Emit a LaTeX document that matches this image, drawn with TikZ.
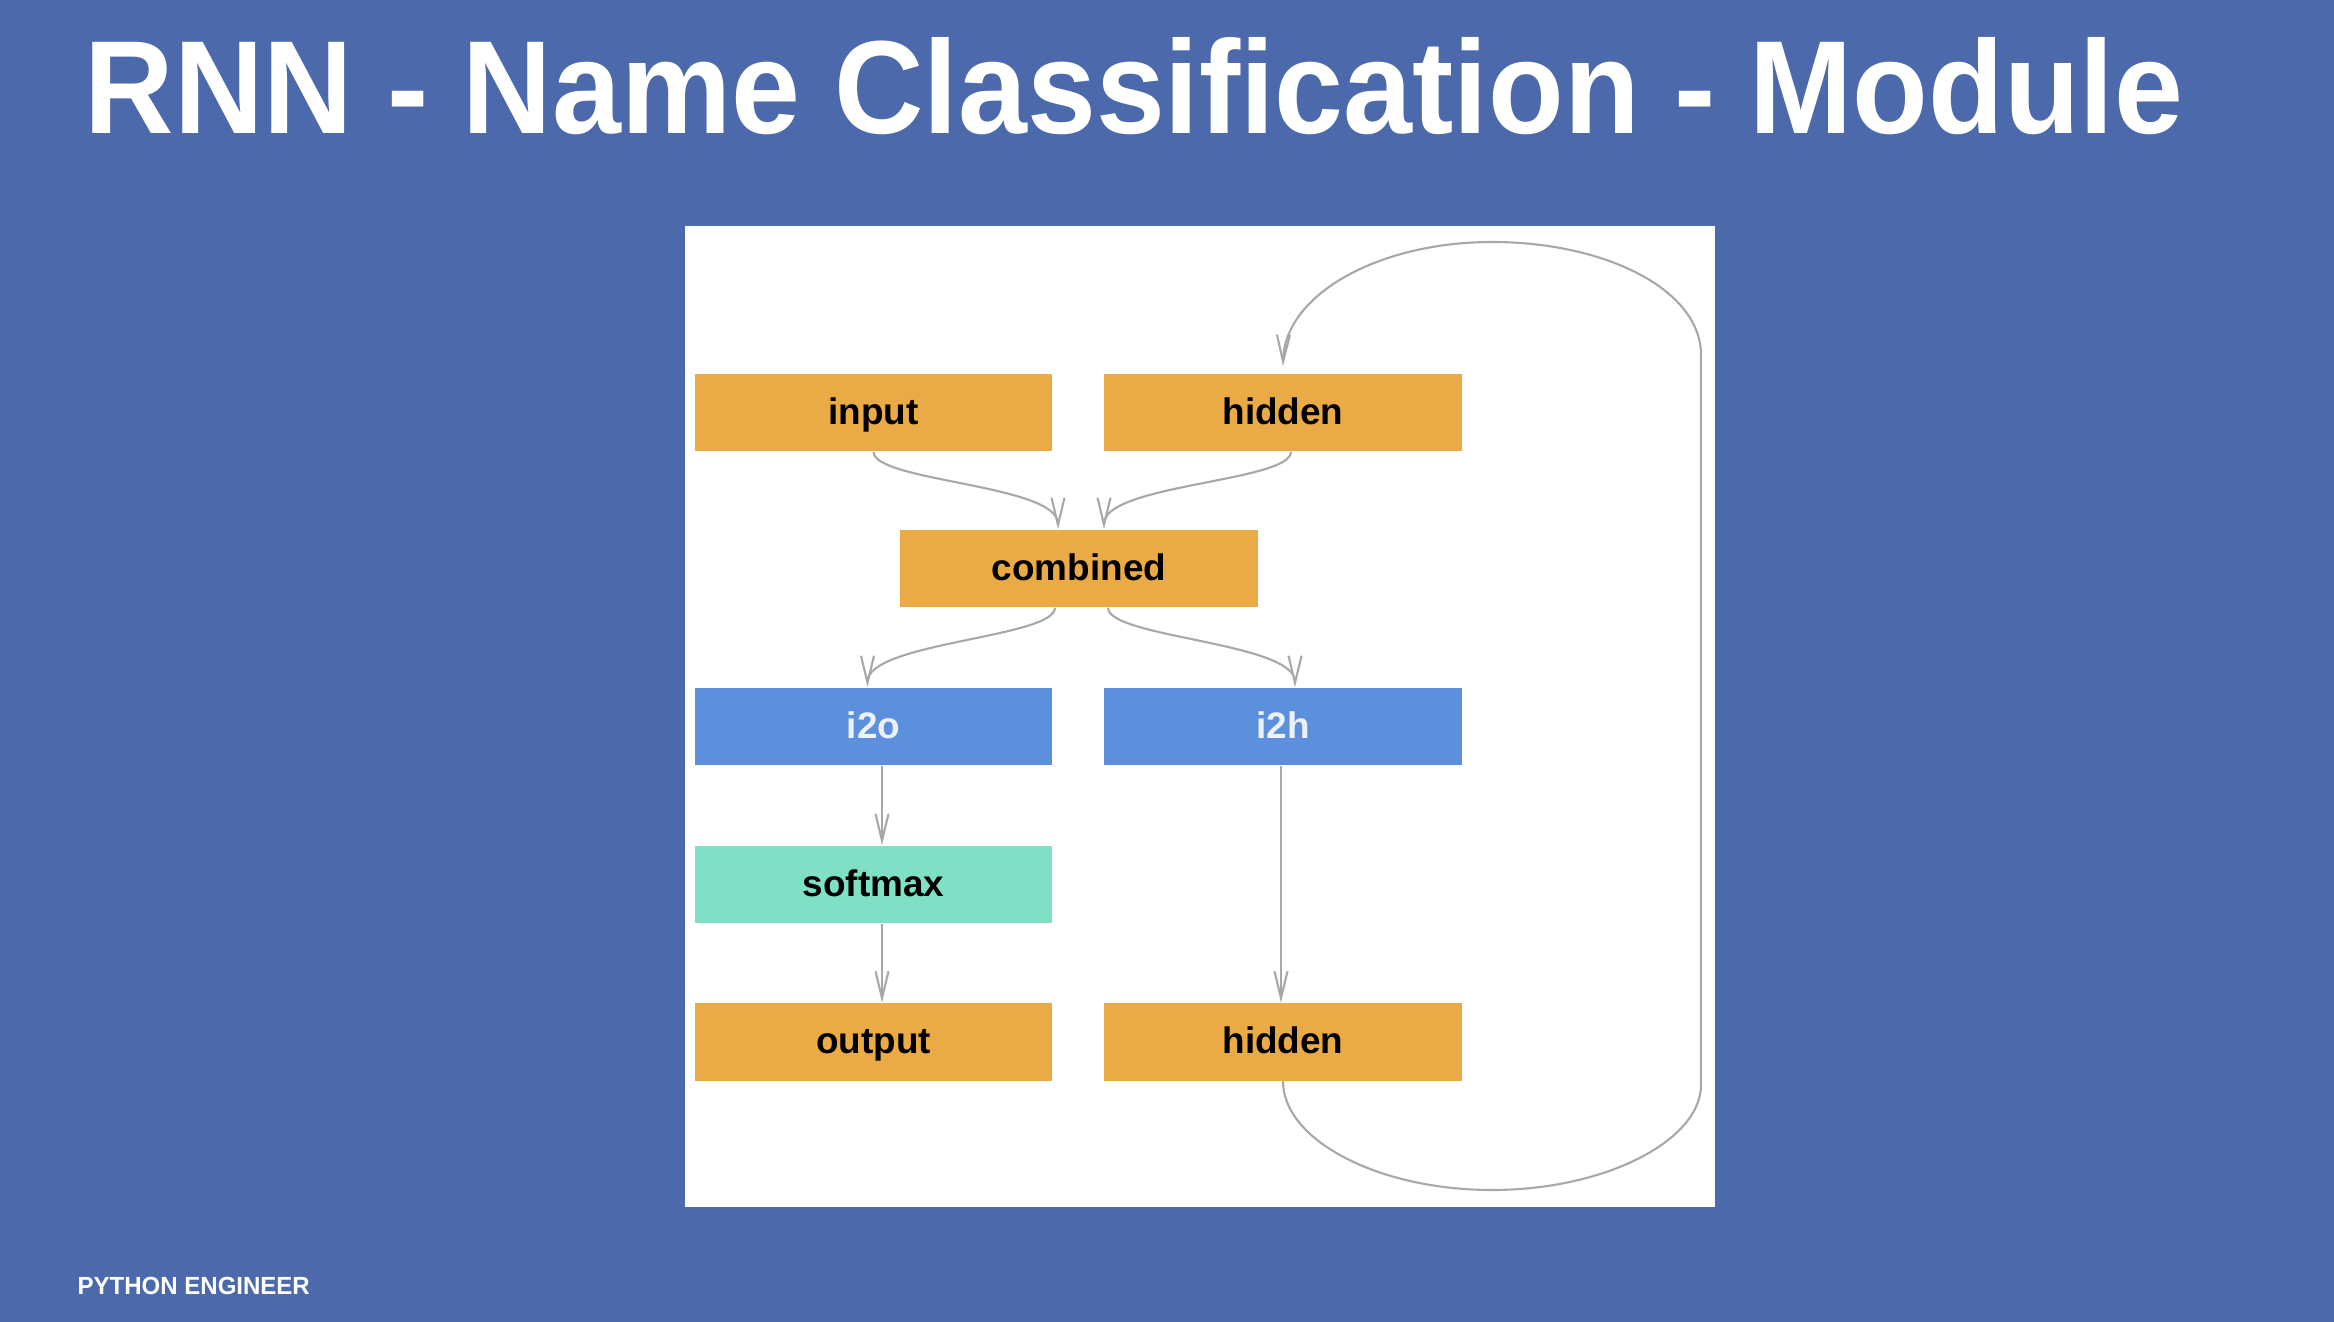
\documentclass[tikz,border=0pt]{standalone}
\usepackage{fontspec}
\setmainfont{Liberation Sans}
\usetikzlibrary{arrows.meta}

\definecolor{slideblue}{RGB}{75,105,171}
\definecolor{boxorange}{RGB}{234,170,69}
\definecolor{boxblue}{RGB}{92,143,220}
\definecolor{boxteal}{RGB}{127,224,197}
\definecolor{linkgray}{RGB}{168,168,168}
\definecolor{labelwhite}{RGB}{236,241,250}

\begin{document}
\begin{tikzpicture}[x=0.01cm, y=-0.01cm, >={Straight Barb[length=0.27cm,width=0.13cm]}]

        \def\boxw{3.57}         % width of a layer box
        \def\boxh{0.77}         % height of a layer box
        \def\colA{873.5}        % x of the left column
        \def\colB{1283}         % x of the right column
        \tikzstyle{layer}=[rectangle,minimum width=\boxw cm,minimum height=\boxh cm,inner sep=0pt,text height=0.8em,text depth=0.12em,font=\fontsize{10.5}{12}\selectfont\bfseries]
        \tikzstyle{link}=[->,draw=linkgray,line width=0.6pt]
        \tikzstyle{slidetext}=[anchor=south west,inner sep=0pt,text=white]

        % Slide background and white panel
        \fill[slideblue] (0,0) rectangle (2334,1322);
        \useasboundingbox (0,0) rectangle (2334,1322);
        \fill[white] (685,226) rectangle (1715,1207);

        % Title and footer
        \node[slidetext] (title) at (84,136) {\resizebox{20.97cm}{0.96cm}{\bfseries RNN - Name Classification - Module}};
        \node[slidetext] (footer) at (77,1295) {\resizebox{2.32cm}{0.173cm}{\bfseries PYTHON ENGINEER}};

        % Draw the layer boxes
        \node[layer,fill=boxorange] (input) at (\colA,412.5) {input};
        \node[layer,fill=boxorange] (hiddenin) at (\colB,412.5) {hidden};
        \node[layer,fill=boxorange] (combined) at (1079,568.5) {combined};
        \node[layer,fill=boxblue,text=labelwhite] (i2o) at (\colA,726.5) {i2o};
        \node[layer,fill=boxblue,text=labelwhite] (i2h) at (\colB,726.5) {i2h};
        \node[layer,fill=boxteal] (softmax) at (\colA,884.5) {softmax};
        \node[layer,fill=boxorange] (output) at (\colA,1042) {output};
        \node[layer,fill=boxorange] (hiddenout) at (\colB,1042) {hidden};

        % Connect the boxes
        \draw[link] (input.south) .. controls +(0,30) and +(0,-45) .. ([xshift=-0.21cm]combined.north);
        \draw[link] ([xshift=0.08cm]hiddenin.south) .. controls +(0,30) and +(0,-45) .. ([xshift=0.25cm]combined.north);
        \draw[link] ([xshift=-0.24cm]combined.south) .. controls +(0,30) and +(0,-45) .. ([xshift=-0.06cm]i2o.north);
        \draw[link] ([xshift=0.29cm]combined.south) .. controls +(0,30) and +(0,-45) .. ([xshift=0.12cm]i2h.north);
        \foreach \src/\dst/\dx in {i2o/softmax/0.085, softmax/output/0.085, i2h/hiddenout/-0.02}
                \draw[link] ([xshift=\dx cm]\src.south) -- ([xshift=\dx cm]\dst.north);

        % Recurrent loop back to the hidden input
        \draw[link] (hiddenout.south) .. controls (1283,1140) and (1378,1190) .. (1492,1190)
                .. controls (1606,1190) and (1701,1140) .. (1701,1085) -- (1701,355)
                .. controls (1701,290) and (1606,242) .. (1492,242)
                .. controls (1378,242) and (1284,295) .. ([yshift=0.07cm]hiddenin.north);

\end{tikzpicture}
\end{document}
